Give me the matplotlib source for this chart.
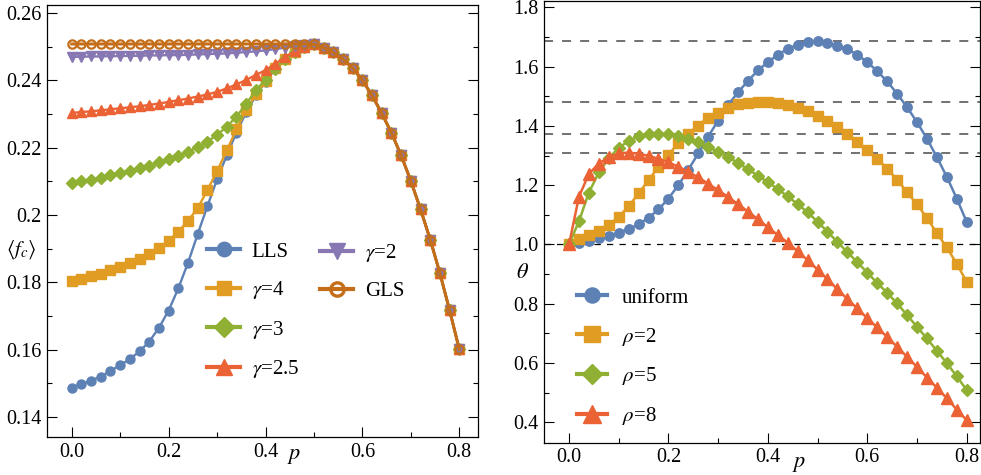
import numpy as np
import matplotlib
matplotlib.use('Agg')
import matplotlib.pyplot as plt
from matplotlib.lines import Line2D

plt.rcParams['font.family'] = ['Liberation Serif', 'DejaVu Serif']
plt.rcParams['mathtext.fontset'] = 'stix'

# grid of p values (both panels use the same 41 points)
p = np.round(np.arange(41) * 0.02, 2)

# ---- left panel: <f_c> versus p ----
# values for p = 0 .. 0.48, then all curves share the same tail (p = 0.50 .. 0.80)
lls_head = [0.1487, 0.1498, 0.1508, 0.1520, 0.1537, 0.1554, 0.1572, 0.1595, 0.1624,
            0.1665, 0.1716, 0.1782, 0.1858, 0.1943, 0.2026, 0.2106, 0.2177, 0.2245,
            0.2305, 0.2355, 0.2396, 0.2434, 0.2462, 0.2484, 0.2500]
g4_head = [0.1805, 0.1810, 0.1818, 0.1826, 0.1836, 0.1845, 0.1856, 0.1869, 0.1884,
           0.1902, 0.1924, 0.1950, 0.1983, 0.2020, 0.2074, 0.2130, 0.2192, 0.2254,
           0.2312, 0.2358, 0.2398, 0.2436, 0.2463, 0.2485, 0.2500]
g3_head = [0.2096, 0.2100, 0.2105, 0.2111, 0.2118, 0.2125, 0.2131, 0.2139, 0.2147,
           0.2156, 0.2165, 0.2176, 0.2188, 0.2201, 0.2218, 0.2238, 0.2262, 0.2292,
           0.2330, 0.2370, 0.2402, 0.2435, 0.2463, 0.2485, 0.2500]
g25_head = [0.2303, 0.2306, 0.2308, 0.2311, 0.2314, 0.2317, 0.2320, 0.2323, 0.2327,
            0.2331, 0.2336, 0.2341, 0.2346, 0.2352, 0.2358, 0.2366, 0.2376, 0.2388,
            0.2401, 0.2416, 0.2430, 0.2449, 0.2469, 0.2486, 0.2499]
g2_head = [0.2470, 0.2470, 0.2471, 0.2471, 0.2472, 0.2472, 0.2473, 0.2473, 0.2474,
           0.2474, 0.2475, 0.2475, 0.2476, 0.2477, 0.2478, 0.2479, 0.2480, 0.2482,
           0.2484, 0.2486, 0.2489, 0.2493, 0.2497, 0.2502, 0.2505]
gls_head = [0.2508, 0.2508, 0.2508, 0.2508, 0.2508, 0.2508, 0.2508, 0.2508, 0.2508,
            0.2508, 0.2508, 0.2508, 0.2508, 0.2508, 0.2508, 0.2508, 0.2508, 0.2508,
            0.2508, 0.2508, 0.2508, 0.2508, 0.2508, 0.2508, 0.2508]
common_tail = [0.2507, 0.2497, 0.2483, 0.2463, 0.2437, 0.2400, 0.2355, 0.2302,
               0.2244, 0.2177, 0.2101, 0.2017, 0.1927, 0.1827, 0.1717, 0.1601]

left_labels = ['LLS', r'$\gamma$=4', r'$\gamma$=3', r'$\gamma$=2.5', r'$\gamma$=2', 'GLS']
left_heads = [lls_head, g4_head, g3_head, g25_head, g2_head, gls_head]
left_yticks = [0.14, 0.16, 0.18, 0.20, 0.22, 0.24, 0.26]
left_yticklabels = ['0.14', '0.16', '0.18', '0.2', '0.22', '0.24', '0.26']

# ---- right panel: theta versus p ----
uniform = [1.000, 1.004, 1.012, 1.021, 1.030, 1.040, 1.052, 1.068, 1.090, 1.118, 1.155,
           1.200, 1.252, 1.307, 1.364, 1.418, 1.471, 1.513, 1.552, 1.587, 1.615,
           1.640, 1.660, 1.674, 1.682, 1.686, 1.681, 1.671, 1.659, 1.640, 1.615,
           1.585, 1.550, 1.509, 1.463, 1.413, 1.357, 1.295, 1.228, 1.155, 1.076]
rho2 = [1.000, 1.018, 1.031, 1.045, 1.065, 1.093, 1.129, 1.172, 1.217, 1.262, 1.303,
        1.342, 1.374, 1.401, 1.428, 1.445, 1.462, 1.473, 1.478, 1.481, 1.481,
        1.476, 1.470, 1.460, 1.449, 1.434, 1.417, 1.397, 1.374, 1.347, 1.319,
        1.289, 1.256, 1.218, 1.177, 1.135, 1.090, 1.038, 0.990, 0.935, 0.874]
rho5 = [1.000, 1.078, 1.175, 1.243, 1.291, 1.326, 1.349, 1.365, 1.372, 1.374, 1.372,
        1.365, 1.356, 1.344, 1.329, 1.313, 1.295, 1.275, 1.254, 1.232, 1.210,
        1.187, 1.162, 1.136, 1.108, 1.077, 1.043, 1.008, 0.974, 0.940, 0.905,
        0.870, 0.837, 0.801, 0.762, 0.722, 0.683, 0.641, 0.600, 0.555, 0.509]
rho8 = [1.000, 1.161, 1.238, 1.273, 1.295, 1.307, 1.310, 1.306, 1.299, 1.289, 1.277,
        1.262, 1.245, 1.226, 1.205, 1.183, 1.160, 1.136, 1.111, 1.085, 1.058,
        1.032, 1.006, 0.977, 0.947, 0.915, 0.883, 0.849, 0.816, 0.784, 0.751,
        0.720, 0.688, 0.655, 0.621, 0.587, 0.551, 0.517, 0.481, 0.443, 0.407]
right_labels = ['uniform', r'$\rho$=2', r'$\rho$=5', r'$\rho$=8']
right_yticks = [0.4, 0.6, 0.8, 1.0, 1.2, 1.4, 1.6, 1.8]

# Mathematica style colours
blue = '#5E81B5'
orange = '#E19C24'
green = '#8FB032'
red = '#EB6235'
purple = '#8778B3'
brown = '#C56E1A'

W, H = 981, 475
fig = plt.figure(figsize=(W / 100, H / 100), dpi=100)


def px(x, y):
    # pixel position -> figure fraction
    return x / W, 1 - y / H


def style_axes(ax, xlim, ylim, yticks, ylabels, yminor):
    ax.set_xlim(*xlim)
    ax.set_ylim(*ylim)
    ax.set_xticks([0.0, 0.2, 0.4, 0.6, 0.8])
    ax.set_xticklabels(['0.0', '0.2', '0.4', '0.6', '0.8'])
    ax.set_xticks([0.1, 0.3, 0.5, 0.7], minor=True)
    ax.set_yticks(yticks)
    ax.set_yticklabels(ylabels)
    ax.set_yticks(yminor, minor=True)
    ax.tick_params(which='both', direction='in', top=False, right=True,
                   width=0.8, labelsize=14.5, pad=4)
    ax.tick_params(which='major', length=7)
    ax.tick_params(which='minor', length=3.8)
    for s in ax.spines.values():
        s.set_linewidth(0.9)


# ---------------- left panel ----------------
ax1 = fig.add_axes([47 / W, 1 - 437 / H, (478 - 47) / W, (437 - 5) / H])
left_styles = [
    dict(color=blue, marker='o', ms=6.5, lw=1.7),
    dict(color=orange, marker='s', ms=6.5, lw=1.7),
    dict(color=green, marker='D', ms=6.4, lw=1.7),
    dict(color=red, marker='^', ms=7.5, lw=1.7),
    dict(color=purple, marker='v', ms=7.5, lw=1.7),
    dict(color=brown, marker='o', ms=6.0, lw=2.2, mfc='none', mew=1.6),
]
for head, st in zip(left_heads, left_styles):
    ax1.plot(p, head + common_tail, **st)

style_axes(ax1, (-0.051, 0.8386), (0.13406, 0.26238), left_yticks, left_yticklabels,
           [0.15, 0.17, 0.19, 0.21, 0.23, 0.25])

leg_handles = []
for st in left_styles:
    st2 = dict(st)
    st2['ms'] = st['ms'] * 1.6
    st2['lw'] = 3
    if 'mew' in st2:
        st2['mew'] = 2.4
    leg_handles.append(Line2D([], [], **st2))

leg_a = ax1.legend(leg_handles[:4], left_labels[:4], loc='upper left',
                   bbox_to_anchor=px(207, 242), bbox_transform=fig.transFigure,
                   frameon=False, fontsize=15, handlelength=1.6, handletextpad=0.55,
                   labelspacing=0.84, borderpad=0, borderaxespad=0)
ax1.add_artist(leg_a)
ax1.legend(leg_handles[4:], left_labels[4:], loc='upper left',
           bbox_to_anchor=px(320, 242), bbox_transform=fig.transFigure,
           frameon=False, fontsize=15, handlelength=1.6, handletextpad=0.55,
           labelspacing=0.84, borderpad=0, borderaxespad=0)

fig.text(*px(21, 250), r'$\langle f_c\rangle$', fontsize=15, ha='center', va='center')
fig.text(*px(294, 456), r'$p$', fontsize=16, ha='center', va='center')

# ---------------- right panel ----------------
ax2 = fig.add_axes([544.3 / W, 1 - 442.7 / H, (980 - 544.3) / W, (442.7 - 1.5) / H])

# dashed lines at the maximum of every curve, and at theta = 1
for s in [uniform, rho2, rho5, rho8]:
    ax2.axhline(max(s), color='0.4', lw=1.3, dashes=(5, 5), zorder=1)
ax2.axhline(1.0, color='k', lw=0.9, dashes=(5, 5), zorder=1)

right_styles = [
    dict(color=blue, marker='o', ms=6.8, lw=1.8),
    dict(color=orange, marker='s', ms=6.8, lw=1.8),
    dict(color=green, marker='D', ms=6.6, lw=1.8),
    dict(color=red, marker='^', ms=8.0, lw=1.8),
]
for s, st in zip([uniform, rho2, rho5, rho8], right_styles):
    ax2.plot(p, s, zorder=3, **st)

style_axes(ax2, (-0.0497, 0.8268), (0.3312, 1.8196), right_yticks,
           ['%.1f' % v for v in right_yticks], [0.5, 0.7, 0.9, 1.1, 1.3, 1.5, 1.7])

r_handles = []
for st in right_styles:
    st2 = dict(st)
    st2['ms'] = st['ms'] * 1.6
    st2['lw'] = 3
    r_handles.append(Line2D([], [], **st2))
ax2.legend(r_handles, right_labels, loc='upper left',
           bbox_to_anchor=px(577, 288), bbox_transform=fig.transFigure,
           frameon=False, fontsize=15, handlelength=1.45, handletextpad=0.7,
           labelspacing=0.86, borderpad=0, borderaxespad=0)

fig.text(*px(522, 274), r'$\theta$', fontsize=16, ha='center', va='center')
fig.text(*px(799, 464), r'$p$', fontsize=16, ha='center', va='center')

fig.savefig('out.png', dpi=100)
